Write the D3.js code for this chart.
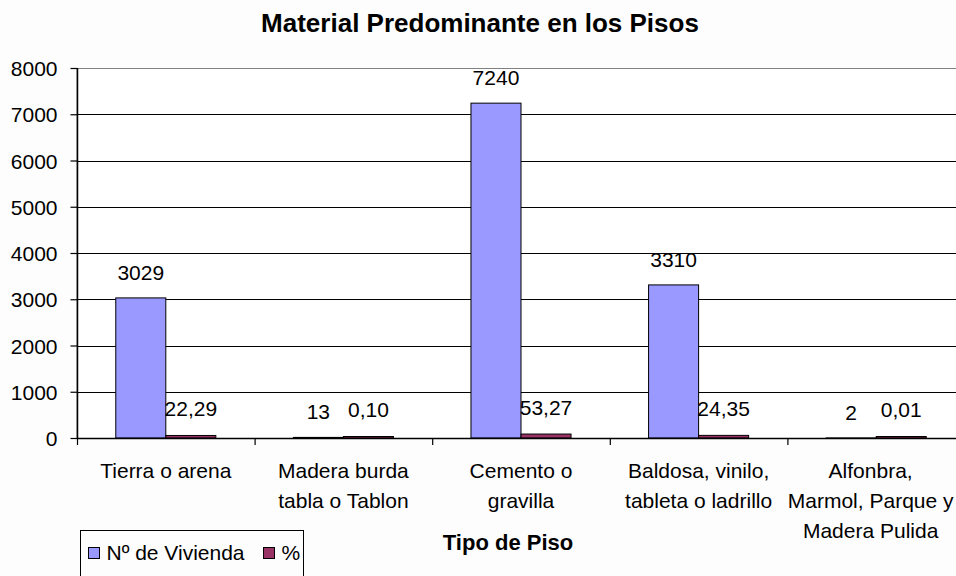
<!DOCTYPE html>
<html>
<head>
<meta charset="utf-8">
<script src="https://cdn.jsdelivr.net/npm/d3@7"></script>
<style>
  body { margin: 0; background: #fdfdfd; }
  svg { display: block; font-family: "Liberation Sans", Arial, sans-serif; }
</style>
</head>
<body>
<div class="chart"></div>
<script>
// data
const categories = ["Tierra o arena", "Madera burda tabla o Tablon", "Cemento o gravilla",
  "Baldosa, vinilo, tableta o ladrillo", "Alfonbra, Marmol, Parque y Madera Pulida"];
const categoryLines = [
  ["Tierra o arena"],
  ["Madera burda", "tabla o Tablon"],
  ["Cemento o", "gravilla"],
  ["Baldosa, vinilo,", "tableta o ladrillo"],
  ["Alfonbra,", "Marmol, Parque y", "Madera Pulida"]
];
const viviendas = [3029, 13, 7240, 3310, 2];
const porcentajes = [22.29, 0.10, 53.27, 24.35, 0.01];
const yTicks = [0, 1000, 2000, 3000, 4000, 5000, 6000, 7000, 8000];
const seriesNames = ["Nº de Vivienda", "%"];
const seriesColors = ["#9999ff", "#993366"];

const width = 956, height = 576;
const margin = { top: 68, right: -9, bottom: 138, left: 77 };
const fontSize = 21;

const esLocale = d3.formatLocale({ decimal: ",", thousands: ".", grouping: [3], currency: ["", ""] });
const fmtPct = esLocale.format(".2f");

const svg = d3.select(".chart").append("svg")
  .attr("width", width)
  .attr("height", height);

const x0 = d3.scaleBand()
  .domain(categories)
  .range([margin.left, width - margin.right])
  .paddingInner(0).paddingOuter(0);

// two bars per category, ~50px wide each, centred in the band
const x1 = d3.scaleBand()
  .domain(["viv", "pct"])
  .range([0, x0.bandwidth()])
  .paddingInner(0).paddingOuter(0.775);

const y = d3.scaleLinear()
  .domain([0, 8000])
  .range([height - margin.bottom, margin.top]);

// plot area
svg.append("rect")
  .attr("x", margin.left).attr("y", margin.top + 0.5)
  .attr("width", width - margin.right - margin.left)
  .attr("height", y(0) - margin.top)
  .attr("fill", "#ffffff")
  .attr("stroke", "#808080");

// gridlines
svg.append("g")
  .selectAll("line")
  .data(yTicks.filter(d => d > 0 && d < 8000))
  .join("line")
  .attr("x1", margin.left).attr("x2", width - margin.right)
  .attr("y1", d => Math.round(y(d)) + 0.5).attr("y2", d => Math.round(y(d)) + 0.5)
  .attr("stroke", "#000")
  .attr("stroke-width", 1.2);

// y axis
const yAxis = svg.append("g")
  .attr("class", "y-axis")
  .attr("transform", "translate(" + (margin.left + 0.5) + ",0)")
  .call(d3.axisLeft(y).tickValues(yTicks).tickSize(7).tickPadding(13).tickFormat(d3.format("d")));
yAxis.select(".domain").attr("stroke", "#000").attr("stroke-width", 1.5).attr("d", "M0," + y(8000) + "V" + y(0));
yAxis.selectAll(".tick line").attr("stroke", "#000").attr("stroke-width", 1.2);
yAxis.selectAll("text")
  .attr("font-size", fontSize)
  .attr("font-family", "Liberation Sans, Arial, sans-serif")
  .attr("dy", "0.36em")
  .attr("fill", "#000");

// bars
const groups = svg.append("g")
  .selectAll("g")
  .data(categories)
  .join("g")
  .attr("transform", d => "translate(" + x0(d) + ",0)");

groups.append("rect")
  .attr("class", "bar")
  .attr("x", x1("viv"))
  .attr("y", (d, i) => y(viviendas[i]))
  .attr("width", x1.bandwidth())
  .attr("height", (d, i) => y(0) - y(viviendas[i]))
  .attr("fill", seriesColors[0])
  .attr("stroke", "#000")
  .attr("stroke-width", 1);

groups.append("rect")
  .attr("class", "bar")
  .attr("x", x1("pct"))
  .attr("y", (d, i) => y(porcentajes[i]) - 1.5)
  .attr("width", x1.bandwidth())
  .attr("height", (d, i) => y(0) - y(porcentajes[i]) + 1.5)
  .attr("fill", seriesColors[1])
  .attr("stroke", "#000")
  .attr("stroke-width", 1);

// x axis
const xAxisY = y(0);
svg.append("line")
  .attr("x1", margin.left).attr("x2", width)
  .attr("y1", xAxisY + 0.5).attr("y2", xAxisY + 0.5)
  .attr("stroke", "#000").attr("stroke-width", 1.5);
svg.append("g")
  .selectAll("line")
  .data(categories)
  .join("line")
  .attr("x1", d => x0(d) + 0.5).attr("x2", d => x0(d) + 0.5)
  .attr("y1", xAxisY).attr("y2", xAxisY + 7)
  .attr("stroke", "#000").attr("stroke-width", 1.2);

// value labels
groups.append("text")
  .attr("x", x1("viv") + x1.bandwidth() / 2)
  .attr("y", (d, i) => y(viviendas[i]) - 18)
  .attr("text-anchor", "middle")
  .attr("font-size", fontSize)
  .text((d, i) => viviendas[i]);

groups.append("text")
  .attr("x", x1("pct") + x1.bandwidth() / 2)
  .attr("y", (d, i) => y(porcentajes[i]) - 21)
  .attr("text-anchor", "middle")
  .attr("font-size", fontSize)
  .text((d, i) => fmtPct(porcentajes[i]));

// category labels (pushed left if they'd run off the right edge, like excel does)
const catLabels = groups.append("text")
  .attr("text-anchor", "middle")
  .attr("font-size", fontSize);
catLabels.selectAll("tspan")
  .data((d, i) => categoryLines[i])
  .join("tspan")
  .attr("x", x0.bandwidth() / 2)
  .attr("y", (d, j) => xAxisY + 39.5 + j * 30)
  .text(d => d);
catLabels.each(function (d) {
  const box = this.getBBox();
  const overflow = x0(d) + box.x + box.width - (width - 2);
  if (overflow > 0) {
    d3.select(this).selectAll("tspan").attr("x", x0.bandwidth() / 2 - overflow);
  }
});

// title
svg.append("text")
  .attr("x", 480)
  .attr("y", 32)
  .attr("text-anchor", "middle")
  .attr("font-size", 26)
  .attr("font-weight", "bold")
  .text("Material Predominante en los Pisos");

// axis title
svg.append("text")
  .attr("x", 508)
  .attr("y", 550)
  .attr("text-anchor", "middle")
  .attr("font-size", 22)
  .attr("font-weight", "bold")
  .text("Tipo de Piso");

// legend
const legend = svg.append("g").attr("transform", "translate(80.5,530.5)");
legend.append("rect")
  .attr("width", 223).attr("height", 60)
  .attr("fill", "#fdfdfd").attr("stroke", "#000");
const legendX = [8, 183];
const items = legend.selectAll("g.item")
  .data(seriesNames)
  .join("g")
  .attr("class", "item")
  .attr("transform", (d, i) => "translate(" + legendX[i] + ",17)");
items.append("rect")
  .attr("width", 11).attr("height", 11)
  .attr("fill", (d, i) => seriesColors[i])
  .attr("stroke", "#000");
items.append("text")
  .attr("x", 18).attr("y", 12)
  .attr("font-size", fontSize)
  .text(d => d);
</script>
</body>
</html>
